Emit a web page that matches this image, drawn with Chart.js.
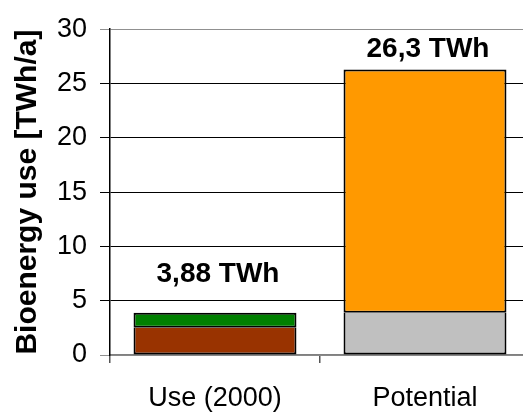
<!DOCTYPE html>
<html>
<head>
<meta charset="utf-8">
<script src="https://cdn.jsdelivr.net/npm/chart.js@4/dist/chart.umd.min.js"></script>
<style>
  html, body { margin: 0; padding: 0; background: #fff; overflow: hidden; }
  #wrap { position: relative; width: 531px; height: 414px; }
</style>
</head>
<body>
<div id="wrap"><canvas id="chart"></canvas></div>
<script>
// Bioenergy use in 2000 versus potential, TWh per year
const categories = ['Use (2000)', 'Potential'];
const useLower = [2.5, null];     // brown segment of current use
const useUpper = [1.38, null];    // green segment of current use
const potentialBase = [null, 3.88];   // grey: already used share
const potentialExtra = [null, 22.42]; // orange: additional potential
const totals = [3.88, 26.3];
const totalLabels = ['3,88 TWh', '26,3 TWh'];
const yTicks = [0, 5, 10, 15, 20, 25, 30];

const FONT = 'Arial, "Liberation Sans", sans-serif';

// Writes the total above each stacked bar
const totalsPlugin = {
  id: 'totals',
  afterDatasetsDraw(chart) {
    const { ctx, scales } = chart;
    const lift = [31, 12];
    ctx.save();
    ctx.font = 'bold 28px ' + FONT;
    ctx.fillStyle = '#000';
    ctx.textAlign = 'center';
    ctx.textBaseline = 'alphabetic';
    totals.forEach((v, i) => {
      const x = scales.x.getPixelForValue(i) + 3;
      const y = scales.y.getPixelForValue(v) - lift[i];
      ctx.fillText(totalLabels[i], x, y);
    });
    ctx.restore();
  }
};

// Lower segments keep their bottom edge, upper segments draw the shared seam once
const lowerStyle = {
  borderColor: '#000', borderSkipped: false, stack: 's', inflateAmount: 0,
  borderWidth: { top: 0, left: 2, right: 2, bottom: 2 }
};
const upperStyle = {
  borderColor: '#000', borderSkipped: false, stack: 's', inflateAmount: 0,
  borderWidth: { top: 2, left: 2, right: 2, bottom: 2 }
};

new Chart(document.getElementById('chart'), {
  type: 'bar',
  data: {
    labels: categories,
    datasets: [
      { ...lowerStyle, data: useLower, backgroundColor: '#993300' },
      { ...upperStyle, data: useUpper, backgroundColor: '#008000' },
      { ...lowerStyle, data: potentialBase, backgroundColor: '#C0C0C0' },
      { ...upperStyle, data: potentialExtra, backgroundColor: '#FF9900' }
    ]
  },
  options: {
    responsive: true,
    maintainAspectRatio: false,
    animation: false,
    layout: { padding: { top: 17, right: 1, left: 0, bottom: 0 } },
    plugins: { legend: { display: false }, tooltip: { enabled: false } },
    datasets: { bar: { categoryPercentage: 1, barPercentage: 0.776 } },
    scales: {
      x: {
        stacked: true,
        offset: true,
        afterFit(s) { s.height = 59; },
        grid: {
          offset: true,
          drawOnChartArea: false,
          tickLength: 8,
          color: '#555',
          lineWidth: 1.5
        },
        border: { color: '#808080', width: 1.5 },
        ticks: { color: '#000', font: { family: FONT, size: 27 }, padding: 19 }
      },
      y: {
        stacked: true,
        min: 0,
        max: 30,
        afterBuildTicks(s) { s.ticks = yTicks.map(v => ({ value: v })); },
        afterFit(s) { s.width = 110; },
        grid: {
          tickLength: 10,
          lineWidth: 1,
          color: c => (c.tick && (c.tick.value === 0 || c.tick.value === 30)) ? '#909090' : '#000'
        },
        border: { color: '#000', width: 1.5 },
        ticks: { color: '#000', font: { family: FONT, size: 27 }, padding: 13 },
        title: {
          display: true,
          text: 'Bioenergy use [TWh/a]',
          color: '#000',
          font: { family: FONT, size: 30, weight: 'bold' },
          padding: { top: 10, bottom: 0 }
        }
      }
    }
  },
  plugins: [totalsPlugin]
});
</script>
</body>
</html>
